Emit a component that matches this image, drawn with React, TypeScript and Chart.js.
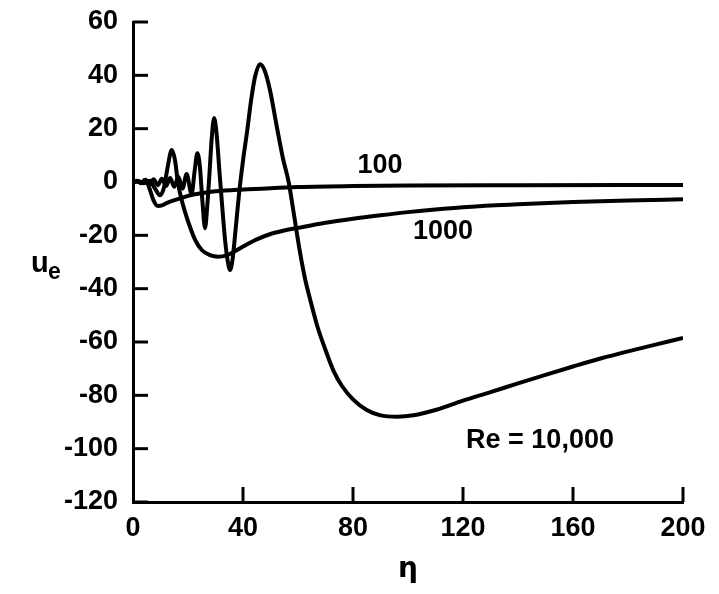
import React, { useEffect, useRef } from "react";
import { Chart, registerables } from "chart.js";

Chart.register(...registerables);

// ---- data (eta, u_e) ----
const re100Eta = [0, 1.5, 3, 4.5, 5.5, 6.5, 7.5, 9, 10.5, 12, 14, 17, 20, 25, 30, 40, 50, 60, 80, 100, 140, 200];
const re100U = [0, 0.5, -0.5, 0.8, -1, -4, -7, -9, -8.8, -8, -7.2, -6.2, -5.2, -4.2, -3.5, -2.8, -2.3, -1.9, -1.5, -1.3, -1.2, -1.1];

const re1000Eta = [0, 2, 4, 6, 8, 9.8, 11.3, 12.5, 14.1, 15.3, 16.3, 17.5, 19, 20.7, 22.5, 25, 28, 31, 34, 37, 40, 45, 50, 55, 60, 70, 80, 90, 100, 110, 120, 130, 140, 160, 180, 200];
const re1000U = [0, 0.3, -0.5, 0.5, -2.5, -5, -2, 5, 12, 8, 0, -6, -11.5, -16.8, -21.5, -25.5, -27.4, -28, -27.5, -26, -24.2, -21.5, -19.5, -18.2, -17.2, -15.3, -13.8, -12.5, -11.3, -10.3, -9.5, -8.8, -8.3, -7.5, -6.9, -6.5];

const re10000Eta = [0, 1.5, 3, 4.5, 6, 7.5, 9, 10.5, 12, 13.5, 15, 16.5, 18, 19.5, 21.3, 22.4, 23.4, 24.3, 25.3, 26.2, 27, 27.8, 28.6, 29.5, 30.4, 31.5, 32.5, 33.5, 34.5, 35.3, 36.2, 37.2, 38.5, 40, 41.5, 43, 44.5, 46.2, 47.8, 49.8, 52.3, 54.5, 56.6, 58.5, 60.5, 62.5, 64.4, 67, 70, 73, 76, 80, 85, 90, 96, 102, 110, 120, 130, 140, 150, 160, 170, 180, 190, 200];
const re10000U = [0, 0.3, -0.3, 0.8, -0.8, 1, -1.2, 1.2, -1.5, 1.5, -1.8, 2, -2.5, 3, -4.5, 4, 10.8, 6, -8, -17.3, -9, 3, 16, 24, 18, 3, -10, -22, -30, -33, -29, -19, -5, 8, 19, 31, 40, 44.2, 42, 34.5, 20.7, 9, 0, -12, -25, -36, -44, -54, -63, -71, -76.5, -81.5, -85.5, -87.5, -88, -87.5, -85.5, -82, -78.8, -75.5, -72.3, -69.2, -66.2, -63.5, -61, -58.5];

const xTicks = [0, 40, 80, 120, 160, 200];
const yTicks = [60, 40, 20, 0, -20, -40, -60, -80, -100, -120];

const curveLabels = ["100", "1000", "Re = 10,000"];
const labelEta = [89.8, 112.7, 148];
const labelU = [6, -18.4, -97];

const W = 719;
const H = 594;
const LEFT = 133;
const RIGHT = 683;
const TOP = 22;
const BOTTOM = 502;

const FONT = '"Liberation Sans", Arial, sans-serif';

function pts(xs: number[], ys: number[]) {
  return xs.map((x, i) => ({ x, y: ys[i] }));
}

const customPlugin = {
  id: "customAxes",
  afterDraw(chart: any) {
    const { ctx, chartArea } = chart;
    const xs = chart.scales.x;
    const ys = chart.scales.y;
    ctx.save();
    ctx.strokeStyle = "#000";
    ctx.lineWidth = 3;
    ctx.lineCap = "butt";
    yTicks.forEach((v) => {
      const py = ys.getPixelForValue(v);
      ctx.beginPath();
      ctx.moveTo(chartArea.left, py);
      ctx.lineTo(chartArea.left + 15, py);
      ctx.stroke();
    });
    xTicks.slice(1).forEach((v) => {
      const px = xs.getPixelForValue(v);
      ctx.beginPath();
      ctx.moveTo(px, chartArea.bottom);
      ctx.lineTo(px, chartArea.bottom - 15);
      ctx.stroke();
    });
    ctx.fillStyle = "#000";
    ctx.font = `bold 27px ${FONT}`;
    ctx.textAlign = "center";
    ctx.textBaseline = "middle";
    curveLabels.forEach((t, i) => {
      ctx.fillText(t, xs.getPixelForValue(labelEta[i]), ys.getPixelForValue(labelU[i]));
    });
    ctx.textAlign = "left";
    ctx.textBaseline = "alphabetic";
    ctx.font = `bold 29px ${FONT}`;
    ctx.fillText("u", 31, 272);
    ctx.font = `bold 23px ${FONT}`;
    ctx.fillText("e", 48, 279);
    ctx.textAlign = "center";
    ctx.font = `bold 28px "DejaVu Sans", ${FONT}`;
    ctx.fillText("η", (chartArea.left + chartArea.right) / 2, 577);
    ctx.restore();
  },
};

export default function App() {
  const ref = useRef<HTMLCanvasElement>(null);
  useEffect(() => {
    if (!ref.current) return;
    const line = {
      borderColor: "#000",
      borderWidth: 4,
      pointRadius: 0,
      fill: false,
      cubicInterpolationMode: "monotone" as const,
    };
    const chart = new Chart(ref.current, {
      type: "line",
      data: {
        datasets: [
          { label: "100", data: pts(re100Eta, re100U), ...line },
          { label: "1000", data: pts(re1000Eta, re1000U), ...line },
          { label: "10000", data: pts(re10000Eta, re10000U), ...line },
        ],
      },
      options: {
        responsive: false,
        animation: false,
        devicePixelRatio: 1,
        layout: { padding: { left: 0, top: TOP, right: W - RIGHT, bottom: 0 } },
        plugins: { legend: { display: false }, tooltip: { enabled: false } },
        scales: {
          x: {
            type: "linear",
            min: 0,
            max: 200,
            afterFit: (s: any) => {
              s.height = H - BOTTOM;
              s.paddingLeft = 0;
              s.paddingRight = 0;
            },
            afterBuildTicks: (s: any) => {
              s.ticks = xTicks.map((v) => ({ value: v }));
            },
            grid: { display: false, drawTicks: false },
            border: { display: true, color: "#000", width: 3 },
            ticks: {
              color: "#000",
              font: { family: FONT, size: 27, weight: "bold" },
              padding: 10,
              maxRotation: 0,
            },
          },
          y: {
            type: "linear",
            min: -120,
            max: 60,
            afterFit: (s: any) => {
              s.width = LEFT;
              s.paddingTop = 0;
              s.paddingBottom = 0;
            },
            afterBuildTicks: (s: any) => {
              s.ticks = yTicks.map((v) => ({ value: v }));
            },
            grid: { display: false, drawTicks: false },
            border: { display: true, color: "#000", width: 3 },
            ticks: {
              color: "#000",
              font: { family: FONT, size: 27, weight: "bold" },
              padding: 15,
            },
          },
        },
      },
      plugins: [customPlugin],
    });
    return () => chart.destroy();
  }, []);
  return (
    <div style={{ position: "absolute", left: 0, top: 0, width: W, height: H, background: "#fff" }}>
      <canvas ref={ref} width={W} height={H} style={{ display: "block" }} />
    </div>
  );
}
